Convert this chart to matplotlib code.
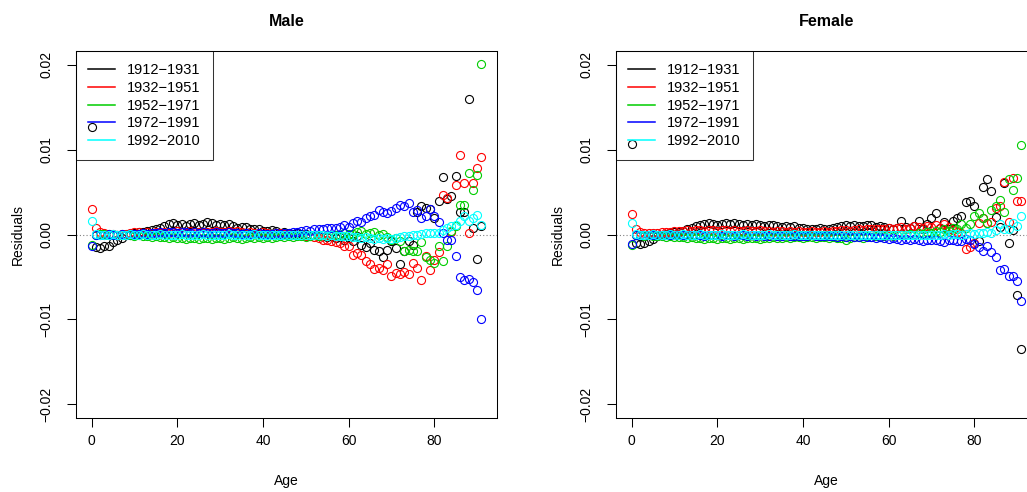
import matplotlib
matplotlib.use("Agg")
import matplotlib.pyplot as plt
from matplotlib.lines import Line2D

plt.rcParams['font.family'] = ['Liberation Sans', 'DejaVu Sans']

ages = list(range(0, 92))
periods = ["1912\u22121931", "1932\u22121951", "1952\u22121971", "1972\u22121991", "1992\u22122010"]
colors = ["black", "red", "#00CD00", "blue", "cyan"]

# residuals by age, male
male_1912 = [0.0126, -0.0015, -0.0016, -0.0014, -0.0013, -0.0009, -0.0006, -0.0004, -0.0001, 0.0000,
             0.0002, 0.0003, 0.0003, 0.0004, 0.0005, 0.0007, 0.0008, 0.0010, 0.0012, 0.0014,
             0.0011, 0.0012, 0.0010, 0.0012, 0.0014, 0.0011, 0.0012, 0.0015, 0.0013, 0.0011,
             0.0012, 0.0011, 0.0012, 0.0010, 0.0008, 0.0009, 0.0009, 0.0007, 0.0006, 0.0007,
             0.0004, 0.0004, 0.0005, 0.0004, 0.0002, 0.0003, 0.0002, 0.0001, 0.0002, 0.0001,
             0.0001, -0.0001, 0.0000, -0.0002, -0.0001, -0.0003, -0.0002, -0.0004, -0.0003, -0.0006,
             -0.0004, -0.0008, -0.0002, -0.0012, -0.0015, -0.0010, -0.0018, -0.0019, -0.0027, -0.0018,
             -0.0008, -0.0016, -0.0035, -0.0020, -0.0008, -0.0012, 0.0026, 0.0033, 0.0031, 0.0030,
             0.0020, 0.0039, 0.0068, 0.0042, 0.0045, 0.0069, 0.0026, 0.0026, 0.0159, 0.0008,
             -0.0029, 0.0010]
male_1932 = [0.0030, 0.0008, 0.0003, 0.0002, 0.0001, 0.0001, 0.0000, 0.0001, 0.0001, 0.0002,
             0.0003, 0.0003, 0.0002, 0.0003, 0.0002, 0.0003, 0.0002, 0.0003, 0.0002, 0.0003,
             0.0004, 0.0003, 0.0002, 0.0004, 0.0003, 0.0003, 0.0002, 0.0003, 0.0003, 0.0004,
             0.0003, 0.0003, 0.0004, 0.0003, 0.0004, 0.0003, 0.0002, 0.0003, 0.0002, 0.0002,
             0.0003, 0.0002, 0.0001, 0.0002, 0.0002, 0.0001, 0.0001, 0.0000, 0.0000, -0.0001,
             -0.0002, -0.0002, -0.0003, -0.0004, -0.0007, -0.0007, -0.0008, -0.0009, -0.0010, -0.0013,
             -0.0013, -0.0024, -0.0022, -0.0024, -0.0031, -0.0035, -0.0041, -0.0039, -0.0042, -0.0035,
             -0.0049, -0.0045, -0.0047, -0.0044, -0.0047, -0.0033, -0.0039, -0.0053, -0.0025, -0.0042,
             -0.0030, -0.0021, 0.0046, 0.0043, 0.0003, 0.0058, 0.0094, 0.0061, 0.0002, 0.0061,
             0.0078, 0.0091]
male_1952 = [-0.0012, 0.0000, 0.0001, 0.0001, 0.0000, 0.0000, -0.0001, 0.0000, -0.0001, -0.0001,
             -0.0002, -0.0001, -0.0002, -0.0002, -0.0003, -0.0002, -0.0003, -0.0003, -0.0004, -0.0003,
             -0.0004, -0.0004, -0.0005, -0.0004, -0.0004, -0.0005, -0.0004, -0.0004, -0.0005, -0.0004,
             -0.0004, -0.0005, -0.0004, -0.0003, -0.0004, -0.0005, -0.0004, -0.0003, -0.0004, -0.0003,
             -0.0004, -0.0003, -0.0004, -0.0003, -0.0002, -0.0003, -0.0002, -0.0003, -0.0002, -0.0002,
             -0.0003, -0.0002, -0.0001, -0.0002, -0.0001, -0.0002, -0.0001, 0.0000, -0.0001, 0.0002,
             0.0001, 0.0001, 0.0003, 0.0004, 0.0001, 0.0002, 0.0003, -0.0001, 0.0001, -0.0003,
             -0.0006, -0.0004, -0.0008, -0.0020, -0.0018, -0.0020, -0.0020, -0.0009, -0.0027, -0.0030,
             -0.0034, -0.0013, -0.0031, -0.0013, 0.0004, 0.0010, 0.0035, 0.0035, 0.0072, 0.0052,
             0.0070, 0.0201]
male_1972 = [-0.0013, -0.0001, 0.0000, 0.0000, 0.0001, 0.0000, 0.0000, 0.0001, 0.0000, 0.0001,
             0.0001, 0.0001, 0.0002, 0.0001, 0.0002, 0.0002, 0.0003, 0.0002, 0.0003, 0.0003,
             0.0002, 0.0003, 0.0003, 0.0002, 0.0003, 0.0002, 0.0003, 0.0002, 0.0002, 0.0003,
             0.0002, 0.0002, 0.0003, 0.0002, 0.0002, 0.0001, 0.0002, 0.0001, 0.0001, 0.0002,
             0.0001, 0.0001, 0.0001, 0.0002, 0.0001, 0.0002, 0.0002, 0.0003, 0.0003, 0.0004,
             0.0005, 0.0004, 0.0006, 0.0007, 0.0006, 0.0008, 0.0008, 0.0008, 0.0009, 0.0011,
             0.0009, 0.0014, 0.0016, 0.0015, 0.0020, 0.0022, 0.0023, 0.0029, 0.0027, 0.0025,
             0.0028, 0.0031, 0.0035, 0.0033, 0.0037, 0.0027, 0.0029, 0.0020, 0.0022, 0.0030,
             0.0022, 0.0015, 0.0002, -0.0007, -0.0007, -0.0025, -0.0050, -0.0054, -0.0052, -0.0056,
             -0.0065, -0.0099]
male_1992 = [0.0016, 0.0001, 0.0000, 0.0000, 0.0000, 0.0001, 0.0000, 0.0000, 0.0000, 0.0001,
             0.0000, 0.0000, 0.0001, 0.0000, 0.0000, 0.0000, 0.0001, 0.0000, 0.0000, 0.0000,
             0.0000, 0.0001, 0.0000, 0.0000, 0.0000, 0.0000, 0.0001, 0.0000, 0.0000, 0.0000,
             0.0000, 0.0000, 0.0001, 0.0000, 0.0000, 0.0000, 0.0000, 0.0000, 0.0001, 0.0000,
             0.0000, 0.0000, 0.0000, 0.0000, 0.0000, 0.0000, 0.0000, 0.0000, 0.0000, -0.0001,
             0.0000, -0.0001, -0.0001, -0.0001, -0.0001, -0.0002, -0.0001, -0.0002, -0.0002, -0.0002,
             -0.0002, -0.0003, -0.0003, -0.0004, -0.0003, -0.0004, -0.0005, -0.0004, -0.0005, -0.0004,
             -0.0005, -0.0004, -0.0003, -0.0002, -0.0002, 0.0000, -0.0001, 0.0001, 0.0002, 0.0002,
             0.0002, 0.0002, 0.0005, 0.0008, 0.0010, 0.0011, 0.0016, 0.0022, 0.0016, 0.0020,
             0.0023, 0.0011]

# residuals by age, female
female_1912 = [0.0107, -0.0010, -0.0011, -0.0010, -0.0008, -0.0005, -0.0002, 0.0000, 0.0001, 0.0002,
               0.0003, 0.0003, 0.0004, 0.0006, 0.0008, 0.0010, 0.0011, 0.0012, 0.0013, 0.0012,
               0.0011, 0.0012, 0.0013, 0.0012, 0.0013, 0.0012, 0.0011, 0.0012, 0.0011, 0.0012,
               0.0011, 0.0010, 0.0011, 0.0011, 0.0010, 0.0009, 0.0010, 0.0009, 0.0010, 0.0008,
               0.0008, 0.0007, 0.0007, 0.0007, 0.0008, 0.0007, 0.0006, 0.0008, 0.0009, 0.0010,
               0.0011, 0.0010, 0.0011, 0.0010, 0.0010, 0.0011, 0.0011, 0.0009, 0.0010, 0.0009,
               0.0008, 0.0007, 0.0008, 0.0016, 0.0009, 0.0008, 0.0010, 0.0016, 0.0007, 0.0012,
               0.0020, 0.0025, 0.0008, 0.0015, 0.0007, 0.0016, 0.0019, 0.0022, 0.0038, 0.0039,
               0.0034, -0.0008, 0.0056, 0.0065, 0.0051, 0.0021, 0.0009, 0.0061, -0.0010, 0.0005,
               -0.0071, -0.0135]
female_1932 = [0.0024, 0.0006, 0.0003, 0.0002, 0.0002, 0.0002, 0.0002, 0.0003, 0.0003, 0.0003,
               0.0004, 0.0004, 0.0004, 0.0005, 0.0004, 0.0005, 0.0005, 0.0004, 0.0005, 0.0005,
               0.0004, 0.0005, 0.0005, 0.0004, 0.0005, 0.0004, 0.0004, 0.0005, 0.0004, 0.0004,
               0.0005, 0.0004, 0.0004, 0.0003, 0.0004, 0.0004, 0.0003, 0.0004, 0.0003, 0.0004,
               0.0003, 0.0003, 0.0004, 0.0003, 0.0003, 0.0004, 0.0003, 0.0004, 0.0004, 0.0005,
               0.0005, 0.0004, 0.0005, 0.0006, 0.0005, 0.0006, 0.0007, 0.0006, 0.0007, 0.0006,
               0.0008, 0.0007, 0.0008, 0.0009, 0.0007, 0.0008, 0.0010, 0.0009, 0.0008, 0.0010,
               0.0009, 0.0011, 0.0008, 0.0012, 0.0009, 0.0005, 0.0003, 0.0002, -0.0017, -0.0015,
               -0.0010, 0.0013, 0.0020, 0.0014, 0.0015, 0.0031, 0.0033, 0.0062, 0.0015, 0.0066,
               0.0040, 0.0040]
female_1952 = [-0.0012, -0.0001, -0.0001, -0.0002, -0.0001, -0.0002, -0.0002, -0.0002, -0.0003, -0.0002,
               -0.0003, -0.0003, -0.0003, -0.0004, -0.0003, -0.0004, -0.0004, -0.0005, -0.0004, -0.0004,
               -0.0005, -0.0004, -0.0004, -0.0005, -0.0004, -0.0004, -0.0005, -0.0004, -0.0004, -0.0004,
               -0.0005, -0.0004, -0.0004, -0.0003, -0.0004, -0.0004, -0.0003, -0.0004, -0.0003, -0.0003,
               -0.0004, -0.0003, -0.0003, -0.0004, -0.0003, -0.0003, -0.0004, -0.0003, -0.0004, -0.0004,
               -0.0006, -0.0004, -0.0003, -0.0003, -0.0004, -0.0002, -0.0003, -0.0002, -0.0003, -0.0002,
               -0.0001, -0.0002, -0.0001, 0.0000, -0.0001, 0.0001, 0.0000, 0.0002, 0.0001, 0.0003,
               0.0002, 0.0004, 0.0003, 0.0006, 0.0004, 0.0008, 0.0006, 0.0012, 0.0008, 0.0012,
               0.0022, 0.0025, 0.0019, 0.0013, 0.0029, 0.0033, 0.0041, 0.0027, 0.0065, 0.0052,
               0.0066, 0.0105]
female_1972 = [-0.0011, -0.0001, -0.0001, -0.0001, -0.0001, -0.0001, -0.0001, -0.0001, -0.0001, -0.0001,
               -0.0001, -0.0001, -0.0001, -0.0001, -0.0001, -0.0001, -0.0001, -0.0002, -0.0001, -0.0001,
               -0.0001, -0.0002, -0.0001, -0.0001, -0.0002, -0.0001, -0.0001, -0.0002, -0.0001, -0.0002,
               -0.0001, -0.0002, -0.0002, -0.0001, -0.0002, -0.0002, -0.0001, -0.0002, -0.0002, -0.0002,
               -0.0002, -0.0002, -0.0001, -0.0002, -0.0002, -0.0002, -0.0002, -0.0002, -0.0003, -0.0002,
               -0.0003, -0.0002, -0.0003, -0.0003, -0.0002, -0.0003, -0.0003, -0.0004, -0.0003, -0.0004,
               -0.0005, -0.0004, -0.0005, -0.0006, -0.0005, -0.0006, -0.0005, -0.0007, -0.0008, -0.0006,
               -0.0007, -0.0006, -0.0008, -0.0009, -0.0007, -0.0006, -0.0008, -0.0008, -0.0005, -0.0007,
               -0.0011, -0.0015, -0.0020, -0.0013, -0.0021, -0.0026, -0.0042, -0.0041, -0.0049, -0.0049,
               -0.0055, -0.0078]
female_1992 = [0.0014, 0.0001, 0.0000, 0.0000, 0.0000, 0.0001, 0.0000, 0.0000, 0.0000, 0.0001,
               0.0000, 0.0000, 0.0001, 0.0000, 0.0000, 0.0000, 0.0001, 0.0000, 0.0000, 0.0000,
               0.0000, 0.0001, 0.0000, 0.0000, 0.0000, 0.0000, 0.0001, 0.0000, 0.0000, 0.0000,
               0.0000, 0.0000, 0.0001, 0.0000, 0.0000, 0.0000, 0.0000, 0.0000, 0.0001, 0.0000,
               0.0000, 0.0000, 0.0000, 0.0000, 0.0000, 0.0000, 0.0000, 0.0000, 0.0000, 0.0000,
               0.0000, 0.0000, -0.0001, 0.0000, 0.0000, -0.0001, 0.0000, 0.0000, -0.0001, 0.0000,
               -0.0001, 0.0000, -0.0001, -0.0001, 0.0000, -0.0001, 0.0000, -0.0001, 0.0000, 0.0000,
               -0.0001, 0.0000, 0.0000, 0.0001, 0.0000, 0.0001, 0.0001, 0.0000, 0.0001, 0.0002,
               0.0001, 0.0002, 0.0002, 0.0003, 0.0002, 0.0005, 0.0012, 0.0007, 0.0006, 0.0014,
               0.0010, 0.0022]

male = [male_1912, male_1932, male_1952, male_1972, male_1992]
female = [female_1912, female_1932, female_1952, female_1972, female_1992]

fig = plt.figure(figsize=(10.27, 4.92), dpi=100)

w, h = 421 / 1027, 367 / 492
bottom = 1 - 418 / 492
panels = [("Male", male, 76 / 1027), ("Female", female, 616 / 1027)]

for title, series, left in panels:
    ax = fig.add_axes([left, bottom, w, h])
    ax.axhline(0, color="gray", linestyle=(0, (1, 2)), linewidth=0.8, zorder=0)
    for vals, col in zip(series, colors):
        ax.plot(ages, vals, "o", mfc="none", mec=col, ms=5.8, mew=0.8)
    ax.set_xlim(-0.04 * 91, 91 * 1.04)
    ax.set_ylim(-0.0216, 0.0216)
    ax.set_xticks([0, 20, 40, 60, 80])
    ax.set_yticks([-0.02, -0.01, 0.0, 0.01, 0.02])
    ax.set_yticklabels(["\u22120.02", "\u22120.01", "0.00", "0.01", "0.02"],
                       rotation=90, va="center")
    ax.tick_params(direction="out", length=6.5, width=0.75, labelsize=10,
                   top=False, right=False)
    ax.tick_params(axis="x", pad=5)
    ax.tick_params(axis="y", pad=10)
    for sp in ax.spines.values():
        sp.set_linewidth(0.75)
    ax.set_title(title, fontweight="bold", fontsize=11.5, pad=18)
    ax.set_xlabel("Age", fontsize=10, labelpad=19)
    ax.set_ylabel("Residuals", fontsize=10, labelpad=10)
    handles = [Line2D([], [], color=c, lw=1.1) for c in colors]
    leg = ax.legend(handles, periods, loc="upper left", borderaxespad=0,
                    fancybox=False, edgecolor="black", fontsize=10.5,
                    handlelength=1.85, handletextpad=0.82, labelspacing=0.25,
                    borderpad=0.85)
    leg.get_frame().set_facecolor("none")
    leg.get_frame().set_linewidth(0.75)

fig.savefig("out.png", dpi=100)
